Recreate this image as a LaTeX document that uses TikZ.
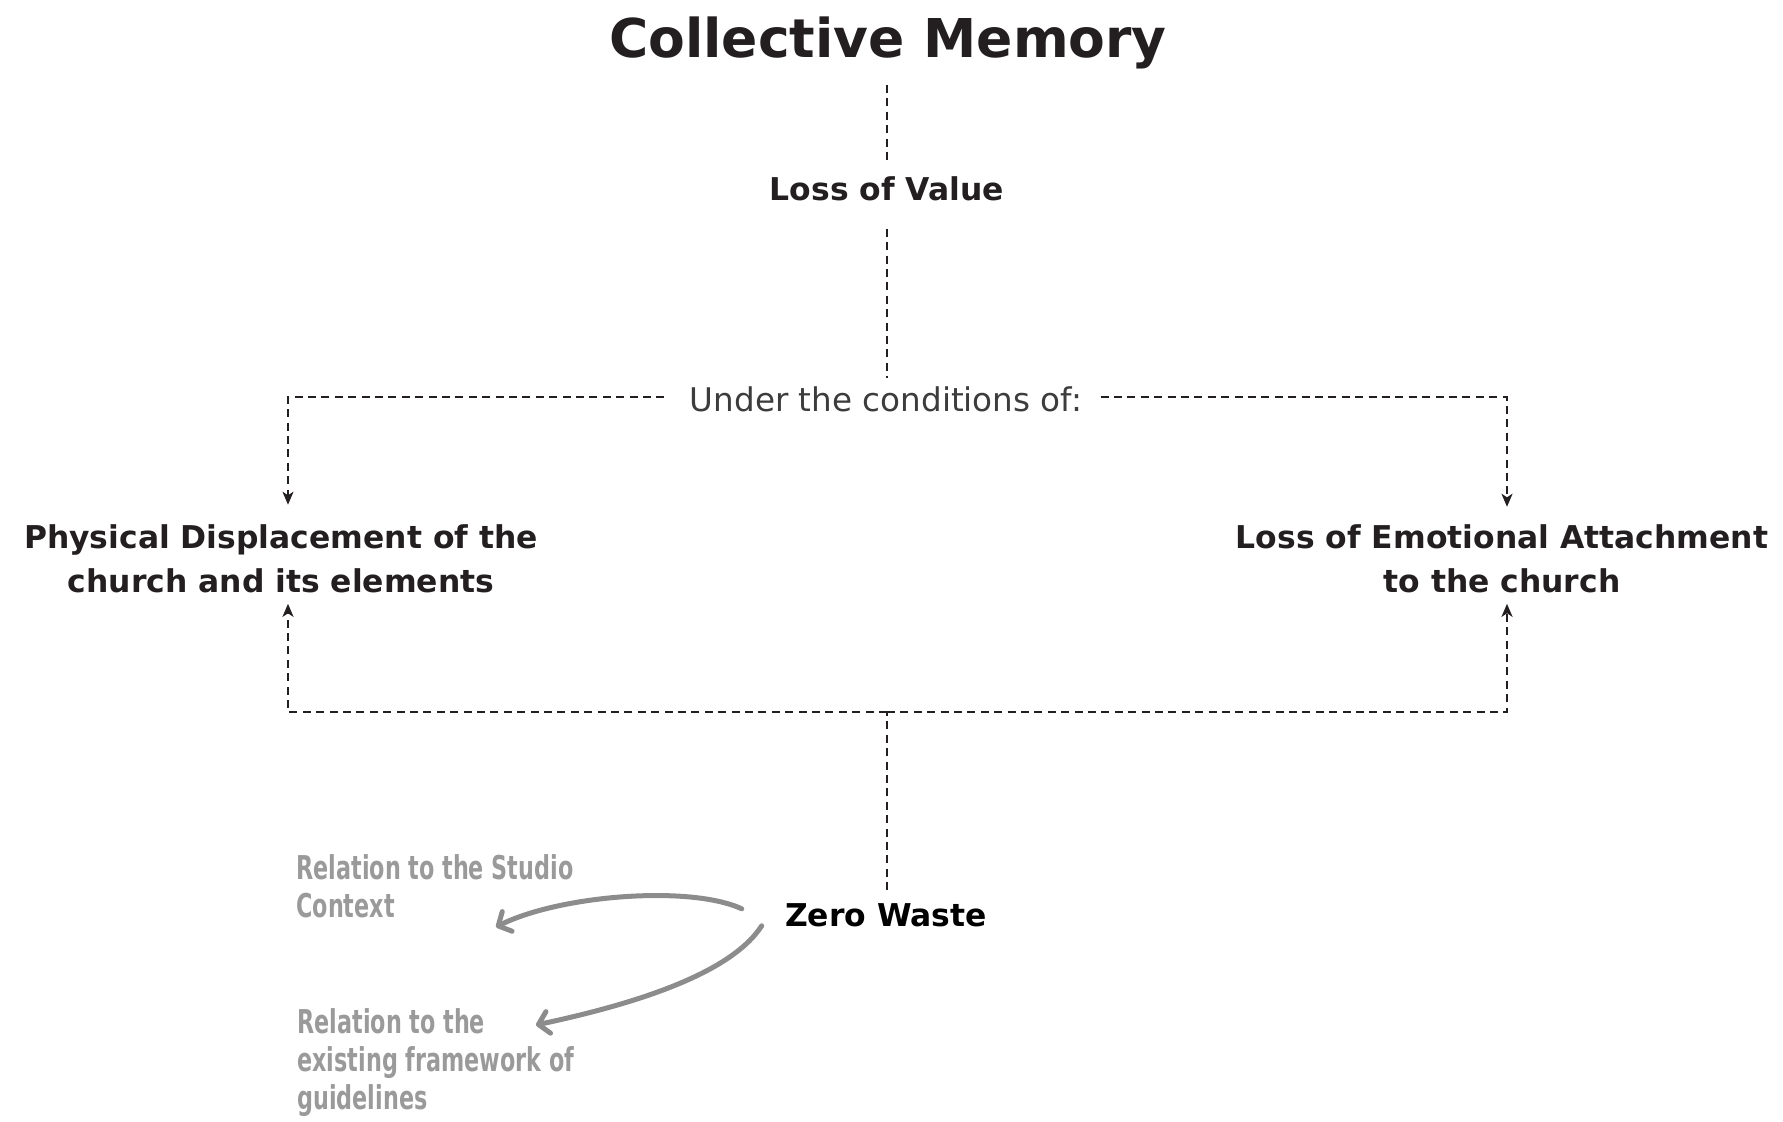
\documentclass[tikz,border=0pt]{standalone}
\usepackage{fontspec}
\setmainfont{DejaVu Sans}
\newfontfamily\handfont[FakeStretch=0.68]{DejaVu Sans}
\usetikzlibrary{arrows.meta,calc}
\definecolor{ink}{HTML}{231F20}
\definecolor{undergray}{HTML}{3C3C3C}
\definecolor{handgray}{HTML}{9A9A9A}
\definecolor{curvegray}{HTML}{8C8C8C}
\begin{document}
\begin{tikzpicture}[x=0.5pt,y=-0.5pt,
  titlelbl/.style={inner sep=0pt, text=ink, font=\fontsize{26.75pt}{32pt}\selectfont\bfseries},
  lbl/.style={inner sep=0pt, text=ink, font=\fontsize{15.7pt}{22pt}\selectfont\bfseries, align=center},
  underlbl/.style={inner sep=0pt, text=undergray, font=\fontsize{16.3pt}{20pt}\selectfont},
  handlbl/.style={inner sep=0pt, text=handgray, font=\handfont\fontsize{16.4pt}{18.8pt}\selectfont\bfseries, align=left},
  dl/.style={draw=ink, line width=1pt, dash pattern=on 4pt off 2.7pt},
  tipd/.style={-{Stealth[length=6.5pt,width=5.5pt,inset=1.8pt]}},
  curvy/.style={draw=curvegray, line width=2.5pt, line cap=round,
    -{Straight Barb[length=5pt,width=11pt,round]}}
]
\useasboundingbox (0,0) rectangle (1783,1122);

% nodes (anchor=base is the baseline of the last line)
\node[titlelbl, anchor=base] (title) at (888,58) {Collective Memory};
\node[lbl, anchor=base] (lov) at (887,201) {Loss of Value};
\node[underlbl, anchor=base] (under) at (886,412) {Under the conditions of:};
\node[lbl, anchor=base] (phys) at (281,593) {Physical Displacement of the\\church and its elements};
\node[lbl, anchor=base] (emo) at (1502,593) {Loss of Emotional Attachment\\to the church};
\node[lbl, anchor=base, text=black] (zero) at (886,926) {Zero Waste};
\node[handlbl, anchor=base west] (rel1) at (296,917) {Relation to the Studio\\Context};
\node[handlbl, anchor=base west] (rel2) at (297,1109) {Relation to the\\existing framework of\\guidelines};

% corner coordinates
\coordinate (ctl) at (288,397);
\coordinate (ctr) at (1507,397);
\coordinate (cbl) at (288,712);
\coordinate (cbr) at (1507,712);
\coordinate (cbm) at (887,712);
\coordinate (c1e) at (496,927);
\coordinate (c2e) at (536,1025);

% connectors
\draw[dl, shorten <=7.5pt, shorten >=6pt] (lov.north |- title.south) -- (lov.north);
\draw[dl, shorten <=13.5pt, shorten >=4.3pt] (lov.south) -- (lov.south |- under.north);
\draw[dl, tipd, shorten >=10pt] ($(under.west |- ctl)+(-25,0)$) -- (ctl) -- (ctl |- phys.north);
\draw[dl, tipd, shorten >=9pt] ($(under.east |- ctr)+(18,0)$) -- (ctr) -- (ctr |- emo.north);
\draw[dl, shorten <=6.3pt] (cbm |- zero.north) -- (cbm);
\draw[dl, tipd, shorten >=5pt] (cbm) -- (cbl) -- (cbl |- phys.south);
\draw[dl, tipd, shorten >=5pt] (cbm) -- (cbr) -- (cbr |- emo.south);

% hand-drawn curves
\draw[curvy] ($(zero.west)+(-43,-6)$) .. controls (690,885) and (560,895) .. (c1e);
\draw[curvy] ($(zero.west)+(-23,11)$) .. controls (730,975) and (630,1005) .. (c2e);
\end{tikzpicture}
\end{document}
